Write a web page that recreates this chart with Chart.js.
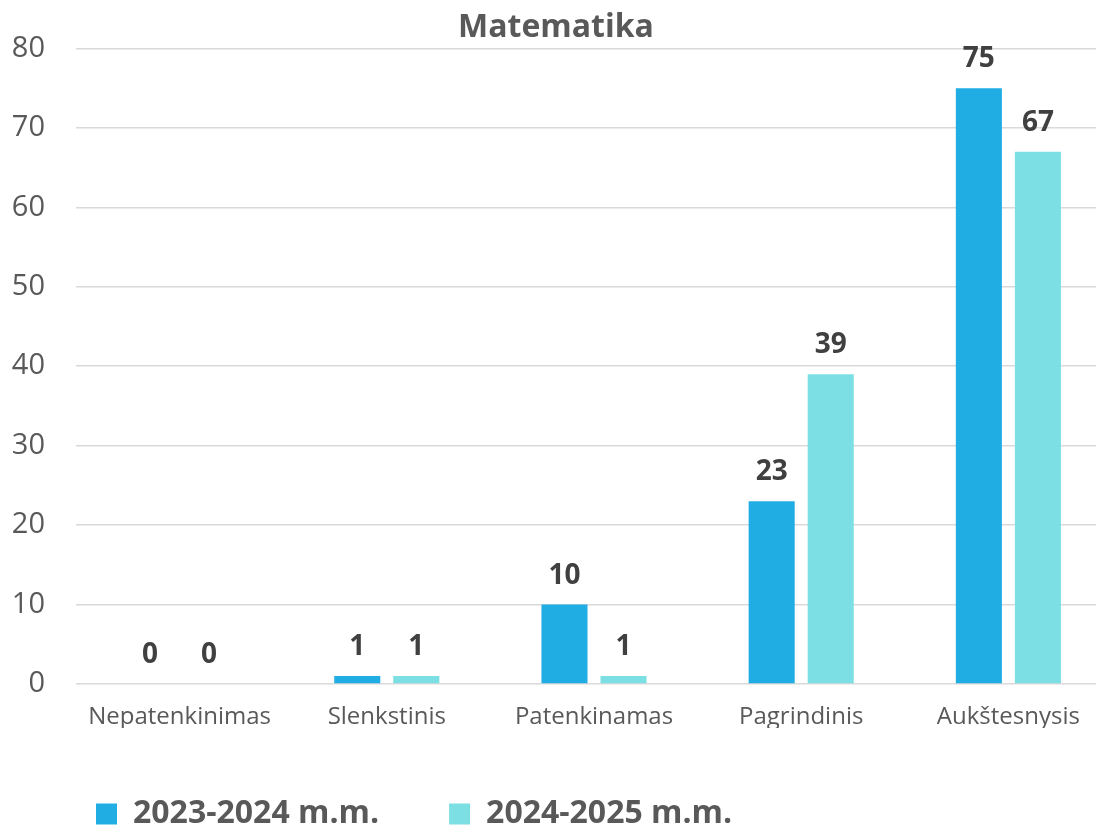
<!DOCTYPE html>
<html>
<head>
<meta charset="utf-8">
<script src="https://cdn.jsdelivr.net/npm/chart.js@4"></script>
<style>
  html, body { margin: 0; padding: 0; background: #fff; overflow: hidden; }
  #wrap { width: 1112px; height: 828px; }
</style>
</head>
<body>
<div id="wrap"><canvas id="matChart"></canvas></div>
<script>
// duomenys
const categories = ["Nepatenkinimas", "Slenkstinis", "Patenkinamas", "Pagrindinis", "Aukštesnysis"];
const seriesNames = ["2023-2024 m.m.", "2024-2025 m.m."];
const values2324 = [0, 1, 10, 23, 75];
const values2425 = [0, 1, 1, 39, 67];
const yTicks = [0, 10, 20, 30, 40, 50, 60, 70, 80];

const FONT = "'Open Sans', 'DejaVu Sans', sans-serif";
const textGray = "#595959";

// reiksmes virs stulpeliu
const valueLabels = {
  id: "valueLabels",
  afterDatasetsDraw(chart) {
    const ctx = chart.ctx;
    ctx.save();
    ctx.font = "bold 28px " + FONT;
    ctx.fillStyle = "#404040";
    ctx.textAlign = "center";
    ctx.textBaseline = "middle";
    chart.data.datasets.forEach((ds, i) => {
      chart.getDatasetMeta(i).data.forEach((bar, j) => {
        ctx.fillText(ds.data[j], bar.x, bar.y - 29);
      });
    });
    ctx.restore();
  }
};

// legenda truputi i desine
const legendShift = {
  id: "legendShift",
  afterLayout(chart) {
    chart.legend.left += 26;
  }
};

const data = {
  labels: categories,
  datasets: [
    { label: seriesNames[0], data: values2324, backgroundColor: "#1FADE4" },
    { label: seriesNames[1], data: values2425, backgroundColor: "#7BDFE4" }
  ]
};

const options = {
  responsive: true,
  maintainAspectRatio: false,
  animation: false,
  layout: { padding: 0 },
  categoryPercentage: 0.57,
  barPercentage: 0.78,
  plugins: {
    title: {
      display: true,
      text: "Matematika",
      color: textGray,
      font: { family: FONT, size: 32, weight: "bold" },
      padding: { top: 2, bottom: 1 }
    },
    legend: {
      position: "bottom",
      align: "start",
      maxHeight: 100,
      labels: {
        boxWidth: 21,
        boxHeight: 21,
        padding: 70,
        color: textGray,
        font: { family: FONT, size: 32, weight: "bold" }
      }
    },
    tooltip: { enabled: false }
  },
  scales: {
    x: {
      grid: { display: false, drawTicks: false },
      border: { display: false },
      ticks: { color: textGray, font: { family: FONT, size: 24 }, padding: 19 },
      afterFit: (scale) => { scale.height = 44; }
    },
    y: {
      min: 0,
      max: 80,
      afterBuildTicks: (scale) => { scale.ticks = yTicks.map(v => ({ value: v })); },
      grid: { color: "#d9d9d9", lineWidth: 1.5, drawTicks: false },
      border: { display: false },
      ticks: { color: textGray, font: { family: FONT, size: 29 }, padding: 31 },
      afterFit: (scale) => { scale.width = 76; }
    }
  }
};

new Chart("matChart", { type: "bar", data, options, plugins: [valueLabels, legendShift] });
</script>
</body>
</html>
